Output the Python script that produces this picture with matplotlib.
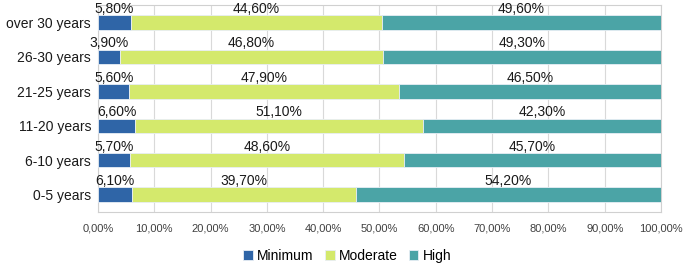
import matplotlib.pyplot as plt
import numpy as np

plt.rcParams['font.family'] = ['Liberation Sans', 'DejaVu Sans']

categories = ['0-5 years', '6-10 years', '11-20 years', '21-25 years', '26-30 years', 'over 30 years']
minimum = [6.1, 5.7, 6.6, 5.6, 3.9, 5.8]
moderate = [39.7, 48.6, 51.1, 47.9, 46.8, 44.6]
high = [54.2, 45.7, 42.3, 46.5, 49.3, 49.6]
series_names = ['Minimum', 'Moderate', 'High']
colors = ['#2f65a7', '#d4e96c', '#4ba4a6']
xticks = np.arange(0, 101, 10)

fig = plt.figure(figsize=(6.85, 2.64), dpi=100)
ax = fig.add_axes([0.143, 0.197, 0.822, 0.784])

y = np.arange(len(categories))
left = np.zeros(len(categories))
for vals, name, col in zip([minimum, moderate, high], series_names, colors):
    vals = np.array(vals)
    ax.barh(y, vals, left=left, height=0.42, color=col, label=name,
            edgecolor='#e8eef5', linewidth=0.6, zorder=3)
    for yi, l, v in zip(y, left, vals):
        ax.text(l + v / 2, yi + 0.19, f'{v:.2f}%'.replace('.', ','),
                ha='center', va='bottom', fontsize=10, color='#1a1a1a', zorder=4)
    left = left + vals

ax.set_xlim(0, 100)
ax.set_ylim(-0.5, 5.5)
ax.set_yticks(y)
ax.set_yticklabels(categories, fontsize=10, color='#1a1a1a')
ax.set_xticks(xticks)
ax.set_xticklabels([f'{t:.2f}%'.replace('.', ',') for t in xticks], fontsize=8, color='#404040')
ax.tick_params(axis='both', length=0, pad=5)
ax.tick_params(axis='x', pad=8)
ax.grid(axis='x', color='#d9d9d9', linewidth=0.8, zorder=0)
for s in ax.spines.values():
    s.set_color('#d0d0d0')
    s.set_linewidth(0.8)

fig.legend(loc='center', bbox_to_anchor=(0.507, 0.03), ncol=3, frameon=False,
           fontsize=10, handlelength=0.7, handleheight=0.7, handletextpad=0.3,
           columnspacing=0.8)

fig.savefig('out.png', dpi=100)
